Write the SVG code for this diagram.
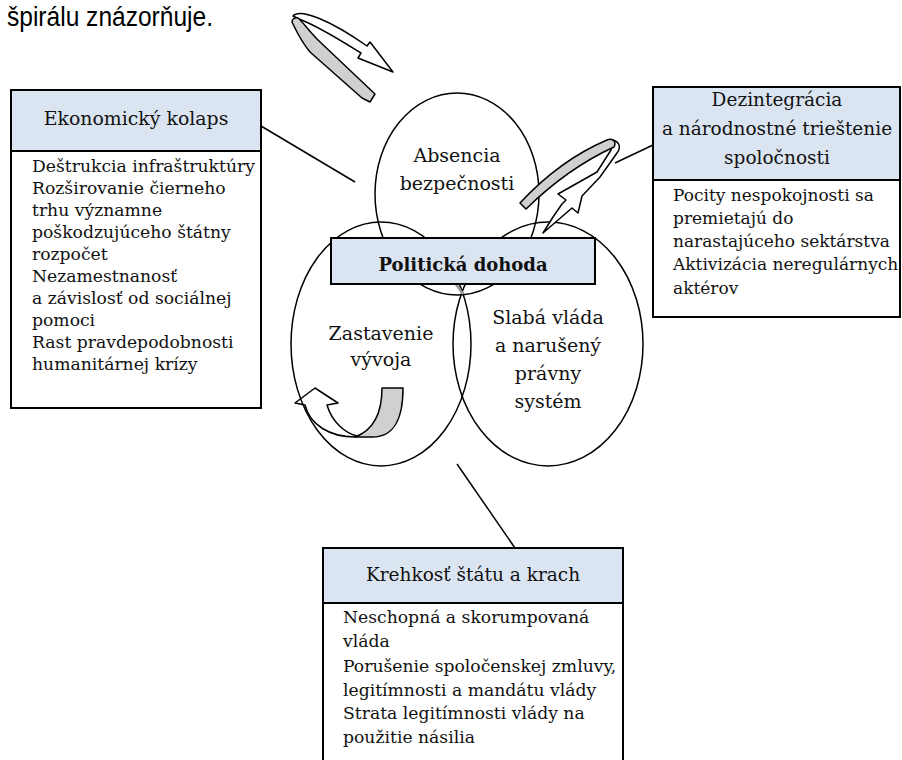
<svg xmlns="http://www.w3.org/2000/svg" width="902" height="760" viewBox="0 0 902 760">
<style>
.box{fill:#fff;stroke:#000;stroke-width:2}
.hdr{fill:#dbe5f1;stroke:#000;stroke-width:2}
.ell{fill:none;stroke:#000;stroke-width:1.5}
.ln{stroke:#000;stroke-width:1.5;fill:none}
.t{font-family:"DejaVu Serif","Liberation Serif",serif;fill:#111}
.c{text-anchor:middle}
.wa{fill:#fff;stroke:#000;stroke-width:1.5;stroke-linejoin:round}
.ga{fill:#d0d0d0;stroke:#000;stroke-width:1.5;stroke-linejoin:round}
</style>
<text x="7" y="26" font-family="Liberation Sans, Arial, sans-serif" font-size="27" textLength="206" lengthAdjust="spacingAndGlyphs" fill="#000">špirálu znázorňuje.</text>

<g id="arrow-bottom-left">
<path class="wa" d="M355,437 C330,437 310,425 305,405 L295,403 L315,388 L338,403 L327,405 C332,422 345,433 357,436 Z"/>
<path class="ga" d="M382,388 L403,388 C403,418 395,437 372,437 L355,437 C374,430 382,412 382,388 Z"/>
</g>

<g id="connectors">
<line class="ln" x1="261" y1="126" x2="355" y2="182"/>
<line class="ln" x1="653" y1="145" x2="615" y2="163"/>
<line class="ln" x1="457" y1="464" x2="515" y2="548"/>
</g>

<g id="absencia">
<ellipse class="ell" cx="457" cy="194" rx="82" ry="101"/>
<text class="t c" x="457" y="162" font-size="19">Absencia</text>
<text class="t c" x="457" y="190" font-size="19">bezpečnosti</text>
</g>
<g id="zastavenie">
<ellipse class="ell" cx="381" cy="344" rx="90" ry="122"/>
<text class="t c" x="381" y="340" font-size="19">Zastavenie</text>
<text class="t c" x="381" y="366" font-size="19">vývoja</text>
</g>
<g id="slaba">
<ellipse class="ell" cx="548" cy="344" rx="95" ry="122"/>
<text class="t c" x="548" y="324" font-size="19">Slabá vláda</text>
<text class="t c" x="548" y="352" font-size="19">a narušený</text>
<text class="t c" x="548" y="380" font-size="19">právny</text>
<text class="t c" x="548" y="408" font-size="19">systém</text>
</g>

<line x1="455" y1="283" x2="463" y2="294" stroke="#999" stroke-width="2.5"/>

<g id="politicka">
<rect class="hdr" x="331" y="238" width="264" height="46"/>
<text class="t c" x="463" y="271" font-size="18" font-weight="bold">Politická dohoda</text>
</g>

<g id="arrow-top">
<path class="wa" d="M293,16 C300,8 330,20 367,46 L370,42 L393,72 L358,58 L361,53 C340,40 318,26 299,19 Z"/>
<path class="ga" d="M292,22 C296,30 300,40 310,52 L362,98 L370,102 L375,94 L318,40 C308,30 303,22 298,18 C295,17 292,19 292,22 Z"/>
</g>

<g id="arrow-right">
<path class="wa" d="M613,140 C620,142 621,148 617,153 L600,177 L582,196 L578,213 L572,208 L543,233 L553,217 L562,204 L566,200 L558,194 L597,172 L611,150 Z"/>
<path class="ga" d="M520,203 Q560,160 607,140 C612,138 617,141 614,147 Q568,168 526,209 Z"/>
</g>

<g id="ekonomicky">
<rect class="box" x="11" y="90" width="250" height="318"/>
<rect class="hdr" x="11" y="90" width="250" height="61"/>
<text class="t c" x="136" y="125" font-size="18.9">Ekonomický kolaps</text>
<g class="t" font-size="17.2">
<text x="32" y="172">Deštrukcia infraštruktúry</text>
<text x="32" y="194">Rozširovanie čierneho</text>
<text x="32" y="216">trhu významne</text>
<text x="32" y="238">poškodzujúceho štátny</text>
<text x="32" y="260">rozpočet</text>
<text x="32" y="282">Nezamestnanosť</text>
<text x="32" y="304">a závislosť od sociálnej</text>
<text x="32" y="326">pomoci</text>
<text x="32" y="348">Rast pravdepodobnosti</text>
<text x="32" y="370">humanitárnej krízy</text>
</g>
</g>

<g id="dezintegracia">
<rect class="box" x="653" y="87" width="247" height="230"/>
<rect class="hdr" x="653" y="87" width="247" height="93"/>
<text class="t c" x="777" y="106" font-size="18.5">Dezintegrácia</text>
<text class="t c" x="777" y="135" font-size="18.5">a národnostné trieštenie</text>
<text class="t c" x="777" y="164" font-size="18.5">spoločnosti</text>
<g class="t" font-size="17">
<text x="673" y="201">Pocity nespokojnosti sa</text>
<text x="673" y="224">premietajú do</text>
<text x="673" y="247">narastajúceho sektárstva</text>
<text x="673" y="270">Aktivizácia neregulárnych</text>
<text x="673" y="294">aktérov</text>
</g>
</g>

<g id="krehkost">
<rect class="box" x="323" y="548" width="300" height="220"/>
<rect class="hdr" x="323" y="548" width="300" height="55"/>
<text class="t c" x="473" y="581" font-size="18.5">Krehkosť štátu a krach</text>
<g class="t" font-size="17.2">
<text x="343" y="623">Neschopná a skorumpovaná</text>
<text x="343" y="647">vláda</text>
<text x="343" y="672">Porušenie spoločenskej zmluvy,</text>
<text x="343" y="696">legitímnosti a mandátu vlády</text>
<text x="343" y="719">Strata legitímnosti vlády na</text>
<text x="343" y="743">použitie násilia</text>
</g>
</g>
</svg>
